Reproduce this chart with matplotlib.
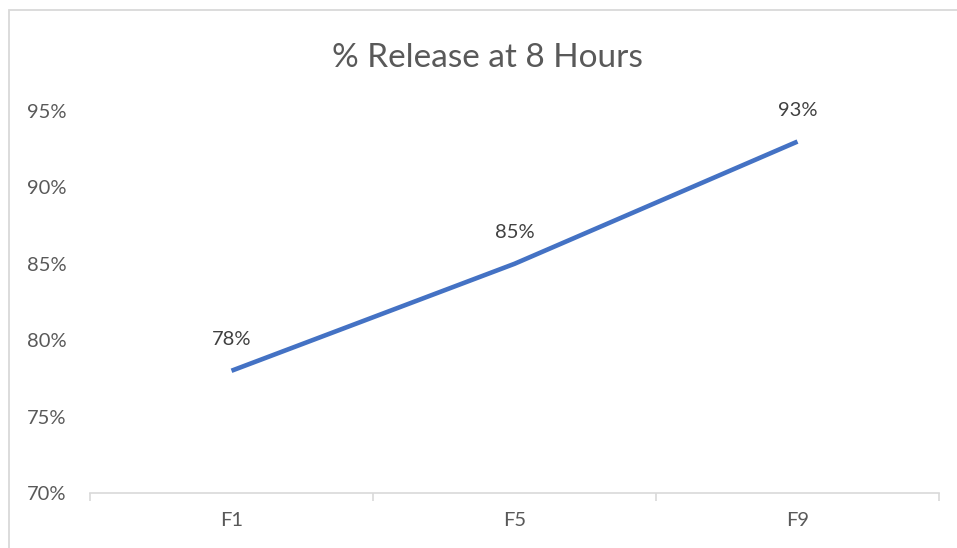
import matplotlib
matplotlib.use("Agg")
import matplotlib.pyplot as plt
from matplotlib.patches import Rectangle
from matplotlib.ticker import FixedLocator, NullFormatter, PercentFormatter

categories = ["F1", "F5", "F9"]
release = [78, 85, 93]
yticks = [70, 75, 80, 85, 90, 95]
title = "% Release at 8 Hours"

plt.rcParams['font.family'] = ['Lato', 'DejaVu Sans']
txt = '#595959'

W, H = 957, 548
fig = plt.figure(figsize=(W / 100, H / 100), dpi=100)
ax = fig.add_axes([90 / W, 1 - 493 / H, (939 - 90) / W, (493 - 111) / H])

x = list(range(len(categories)))
ax.plot(x, release, color='#4472C4', lw=3.3, solid_capstyle='butt', zorder=3)
for xi, v in zip(x, release):
    ax.annotate(f"{v}%", (xi, v), xytext=(0, 23), textcoords='offset pixels',
                ha='center', va='bottom', fontsize=14.5, color='#404040')

ax.set_xlim(-0.5, len(categories) - 0.5)
ax.set_ylim(yticks[0], yticks[-1])
ax.set_yticks(yticks)
ax.yaxis.set_major_formatter(PercentFormatter(decimals=0))
ax.tick_params(axis='y', length=0, pad=17, labelsize=14.5, labelcolor=txt)

ax.xaxis.set_major_locator(FixedLocator([i - 0.5 for i in range(len(categories) + 1)]))
ax.xaxis.set_major_formatter(NullFormatter())
ax.set_xticks(x, minor=True)
ax.set_xticklabels(categories, minor=True)
ax.tick_params(axis='x', which='major', length=6, width=1.2, color='#D9D9D9', direction='out')
ax.tick_params(axis='x', which='minor', length=0, pad=14, labelsize=14.5, labelcolor=txt)

for s in ['top', 'right', 'left']:
    ax.spines[s].set_visible(False)
ax.spines['bottom'].set_color('#D9D9D9')
ax.spines['bottom'].set_linewidth(1.2)

fig.text(487 / W, 1 - 58 / H, title, ha='center', va='center', fontsize=24, color=txt)

fig.patches.append(Rectangle((8.5 / W, -0.1), 1.2, (1 - 10 / H) + 0.1, transform=fig.transFigure,
                             fill=False, edgecolor='#D9D9D9', lw=1.3))

fig.savefig("out.png", dpi=100)
